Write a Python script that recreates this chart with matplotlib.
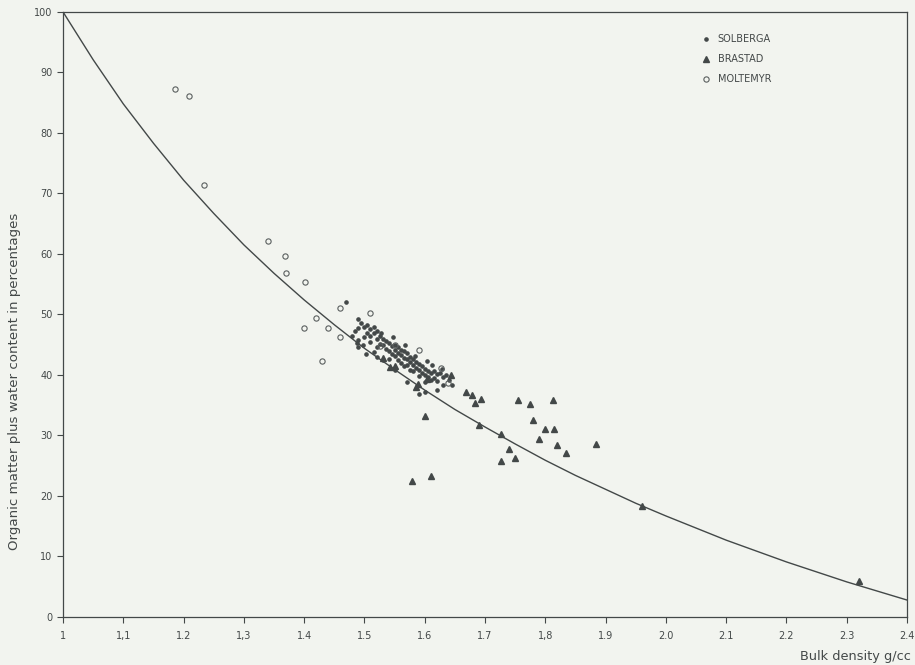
import matplotlib.pyplot as plt

# curve (bulk density -> percent)
curve_x = [1.0, 1.05, 1.1, 1.15, 1.2, 1.25, 1.3, 1.35, 1.4, 1.45, 1.5, 1.55, 1.6, 1.65, 1.7,
           1.75, 1.8, 1.85, 1.9, 1.95, 2.0, 2.1, 2.2, 2.3, 2.4]
curve_y = [100, 92.1, 84.8, 78.3, 72.2, 66.7, 61.5, 56.8, 52.4, 48.3, 44.4, 40.9, 37.5, 34.3, 31.4,
           28.6, 25.9, 23.4, 21.1, 18.8, 16.7, 12.7, 9.1, 5.8, 2.8]

# SOLBERGA (dots)
sol_x = [1.47, 1.48, 1.484, 1.488, 1.49, 1.49, 1.495, 1.50, 1.50, 1.503, 1.505, 1.505, 1.51, 1.51,
         1.51, 1.515, 1.515, 1.52, 1.52, 1.52, 1.52, 1.525, 1.525, 1.53, 1.53, 1.53, 1.535, 1.535,
         1.54, 1.54, 1.54, 1.545, 1.545, 1.55, 1.55, 1.55, 1.555, 1.555, 1.555, 1.56, 1.56, 1.56,
         1.565, 1.565, 1.565, 1.57, 1.57, 1.57, 1.575, 1.575, 1.575, 1.58, 1.58, 1.58, 1.585, 1.585,
         1.59, 1.59, 1.59, 1.595, 1.595, 1.60, 1.60, 1.60, 1.605, 1.605, 1.61, 1.61, 1.615, 1.615,
         1.62, 1.62, 1.625, 1.63, 1.63, 1.635, 1.64, 1.645, 1.60, 1.62, 1.57, 1.55, 1.59, 1.515,
         1.49, 1.49, 1.497, 1.527, 1.548, 1.567, 1.583, 1.612, 1.628, 1.603]
sol_y = [52.0, 46.5, 47.2, 45.3, 49.3, 45.8, 48.6, 47.9, 46.2, 43.4, 48.3, 47.0, 47.6, 46.5,
         45.4, 48.0, 46.9, 47.2, 45.9, 44.6, 43.0, 46.4, 45.2, 46.0, 44.9, 42.5, 45.6, 44.3,
         45.3, 44.0, 42.6, 44.8, 43.5, 45.0, 44.2, 43.1, 44.6, 43.6, 42.4, 44.1, 43.3, 42.0,
         43.9, 42.8, 41.5, 43.6, 42.7, 41.6, 43.0, 42.1, 40.8, 42.6, 41.7, 40.6, 42.2, 41.2,
         41.8, 40.9, 39.8, 41.5, 40.3, 41.0, 40.0, 38.8, 40.6, 39.6, 40.3, 39.2, 40.7, 39.5,
         40.1, 39.0, 40.4, 39.6, 38.4, 40.0, 39.1, 38.3, 37.2, 37.5, 38.9, 40.9, 36.8, 43.8,
         44.6, 47.8, 45.0, 47.0, 46.2, 44.9, 43.1, 41.6, 41.0, 42.3]

# BRASTAD (triangles)
bra_x = [1.53, 1.543, 1.55, 1.585, 1.589, 1.604, 1.643, 1.579, 1.61, 1.60, 1.668, 1.679, 1.693,
         1.683, 1.69, 1.755, 1.775, 1.813, 1.727, 1.726, 1.74, 1.749, 1.78, 1.79, 1.80, 1.815,
         1.82, 1.834, 1.884, 1.96, 2.32]
bra_y = [42.8, 41.3, 41.5, 38.0, 38.5, 39.3, 40.0, 22.5, 23.3, 33.3, 37.2, 36.7, 36.0,
         35.4, 31.7, 35.9, 35.2, 35.9, 30.2, 25.8, 27.8, 26.3, 32.5, 29.5, 31.0, 31.0,
         28.4, 27.1, 28.6, 18.3, 5.9]

# MOLTEMYR (open circles)
mol_x = [1.185, 1.209, 1.233, 1.340, 1.369, 1.370, 1.401, 1.40, 1.420, 1.440, 1.430, 1.460,
         1.460, 1.510, 1.55, 1.59, 1.627, 1.639, 1.526]
mol_y = [87.3, 86.1, 71.4, 62.1, 59.7, 56.9, 55.4, 47.8, 49.4, 47.8, 42.3, 51.1,
         46.3, 50.2, 45.0, 44.2, 41.2, 38.6, 44.8]

xticks = [1.0, 1.1, 1.2, 1.3, 1.4, 1.5, 1.6, 1.7, 1.8, 1.9, 2.0, 2.1, 2.2, 2.3, 2.4]
xticklabels = ['1', '1,1', '1.2', '1,3', '1.4', '1.5', '1.6', '1.7', '1,8', '1.9', '2.0',
               '2.1', '2.2', '2.3', '2.4']
yticks = [0, 10, 20, 30, 40, 50, 60, 70, 80, 90, 100]

paper = '#f2f4ef'
ink = '#434848'

fig = plt.figure(figsize=(9.15, 6.65), dpi=100, facecolor=paper)
ax = fig.add_axes([0.0689, 0.0722, 0.9224, 0.9098])
ax.set_facecolor(paper)

ax.plot(curve_x, curve_y, color=ink, lw=1.0, zorder=2)
ax.plot(sol_x, sol_y, ls='none', marker='o', ms=2.3, color=ink, mec=ink, label='SOLBERGA', zorder=3)
ax.plot(bra_x, bra_y, ls='none', marker='^', ms=4.2, color=ink, mec=ink, label='BRASTAD', zorder=3)
ax.plot(mol_x, mol_y, ls='none', marker='o', ms=3.8, mfc='none', mec='#5a5f5f', mew=0.8,
        label='MOLTEMYR', zorder=3)

ax.set_xlim(1.0, 2.4)
ax.set_ylim(0, 100)
ax.set_xticks(xticks)
ax.set_xticklabels(xticklabels)
ax.set_yticks(yticks)
ax.tick_params(direction='out', length=4, width=0.8, color=ink, labelcolor=ink, labelsize=7)
ax.tick_params(axis='x', pad=6)
for s in ax.spines.values():
    s.set_color(ink)
    s.set_linewidth(0.9)

ax.set_ylabel('Organic matter plus water content in percentages', color=ink, fontsize=9.6)
ax.yaxis.set_label_coords(-0.05, 0.39)
fig.text(0.996, 0.003, 'Bulk density g/cc', ha='right', va='bottom', color=ink, fontsize=9.3)

leg = ax.legend(loc='upper left', bbox_to_anchor=(0.748, 0.978), frameon=False, fontsize=7,
                handlelength=0.6, handletextpad=0.9, labelspacing=1.05, markerscale=1.0)
for t in leg.get_texts():
    t.set_color(ink)

fig.savefig('out.png', dpi=100, facecolor=paper)
